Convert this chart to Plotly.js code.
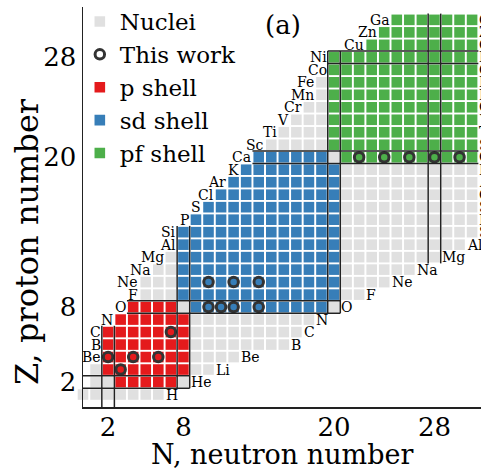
<!DOCTYPE html>
<html><head><meta charset="utf-8">
<script src="https://cdn.plot.ly/plotly-3.0.1.min.js"></script>
<style>html,body{margin:0;padding:0;background:#fff}#chart{width:481px;height:468px}</style>
</head><body><div id="chart"></div>
<script>
// ---- data ----
const elements = ['H','He','Li','Be','B','C','N','O','F','Ne','Na','Mg','Al','Si','P','S','Cl','Ar','K','Ca','Sc','Ti','V','Cr','Mn','Fe','Co','Ni','Cu','Zn','Ga'];
const protonZ = [1,2,3,4,5,6,7,8,9,10,11,12,13,14,15,16,17,18,19,20,21,22,23,24,25,26,27,28,29,30,31];
const nMin = [0,1,1,2,2,2,3,4,5,5,6,7,8,8,9,10,11,12,13,14,15,16,17,18,19,19,20,20,23,24,25];
const nMax = [6,8,10,12,16,17,18,20,22,24,26,28,30,31,31,31,31,31,31,31,31,31,31,31,31,31,31,31,31,31,31];
const workN = [3,2,4,6,7,10,11,12,14,10,12,14,22,24,26,28,30];
const workZ = [3,4,4,4,6,8,8,8,8,10,10,10,20,20,20,20,20];
const magicNumbers = [2,8,20,28];
const tickValues = [2,8,20,28];
const shellNames = ['p shell','sd shell','pf shell'];
const shellLow = [2,8,20];
const shellHigh = [8,20,40];

// ---- styles ----
const FONT = 'DejaVu Serif, serif';
const GRAY = '#e0e0e0';
const SHELL_COLORS = ['#e41a1c','#377eb8','#4daf4a'];
const LINE = '#222222';
const CELL = 10.6;

function shellOf(n, z) {
  for (let s = 0; s < shellLow.length; s++) {
    const lo = shellLow[s], hi = shellHigh[s];
    if (n >= lo && n <= hi && z >= lo && z <= hi) {
      const corner = (n === lo || n === hi) && (z === lo || z === hi);
      if (!corner) return s;
    }
  }
  return -1;
}

const gray = {x: [], y: []};
const shells = shellNames.map(() => ({x: [], y: []}));
protonZ.forEach((z, i) => {
  for (let n = nMin[i]; n <= nMax[i]; n++) {
    const s = shellOf(n, z);
    const target = s < 0 ? gray : shells[s];
    target.x.push(n); target.y.push(z);
  }
});

const traces = [];
traces.push({type: 'scatter', mode: 'markers', name: 'Nuclei', x: gray.x, y: gray.y,
  marker: {symbol: 'square', size: CELL, color: GRAY, line: {width: 0}},
  cliponaxis: false, legendrank: 1, hoverinfo: 'x+y'});
shellNames.forEach((nm, s) => {
  traces.push({type: 'scatter', mode: 'markers', name: nm, x: shells[s].x, y: shells[s].y,
    marker: {symbol: 'square', size: CELL, color: SHELL_COLORS[s], line: {width: 0}},
    cliponaxis: false, legendrank: 3 + s, hoverinfo: 'x+y'});
});
traces.push({type: 'scatter', mode: 'markers', name: 'This work', x: workN, y: workZ,
  marker: {symbol: 'circle-open', size: 9.5, color: '#333333', line: {width: 3, color: '#333333'}},
  cliponaxis: false, legendrank: 2, hoverinfo: 'x+y'});

// magic-number bracket lines, derived from the nuclei extents
const shapes = [];
function seg(x0, y0, x1, y1) {
  shapes.push({type: 'line', xref: 'x', yref: 'y', x0, y0, x1, y1, layer: 'above',
    line: {color: LINE, width: 1.5}});
}
magicNumbers.forEach(M => {
  const ri = protonZ.indexOf(M);
  if (ri >= 0) {
    const a = nMin[ri] <= 1 ? 0 : nMin[ri] - 0.5;
    const b = nMax[ri] + 0.5;
    seg(a, M - 0.5, b, M - 0.5);
    seg(a, M + 0.5, b, M + 0.5);
  }
  const zs = protonZ.filter((z, i) => nMin[i] <= M && nMax[i] >= M);
  if (zs.length) {
    const lo = Math.min(...zs), hi = Math.max(...zs);
    const a = lo <= 1 ? 0 : lo - 0.5;
    seg(M - 0.5, a, M - 0.5, hi + 0.5);
    seg(M + 0.5, a, M + 0.5, hi + 0.5);
  }
});

const annotations = [];
protonZ.forEach((z, i) => {
  if (z >= 4) {
    annotations.push({xref: 'x', yref: 'y', x: nMin[i] - 0.5, y: z, text: elements[i],
      xanchor: 'right', yanchor: 'middle', showarrow: false, borderpad: 0,
      font: {family: FONT, size: 14, color: '#000'}});
  }
  annotations.push({xref: 'x', yref: 'y', x: nMax[i] + 0.5, y: z, text: elements[i],
    xanchor: 'left', yanchor: 'middle', showarrow: false, borderpad: 0,
    font: {family: FONT, size: 14, color: '#000'}});
});
annotations.push({xref: 'paper', yref: 'paper', x: 0.5025, y: 0.955, text: '(a)',
  showarrow: false, xanchor: 'center', yanchor: 'middle', font: {family: FONT, size: 26, color: '#000'}});
annotations.push({xref: 'paper', yref: 'paper', x: 0.5, y: -0.118, text: 'N, neutron number',
  showarrow: false, xanchor: 'center', yanchor: 'middle', font: {family: FONT, size: 27, color: '#000'}});
annotations.push({xref: 'paper', yref: 'paper', x: -0.14, y: 0.413, text: 'Z, proton number',
  showarrow: false, xanchor: 'center', yanchor: 'middle', textangle: -90, font: {family: FONT, size: 32, color: '#000'}});

const layout = {
  width: 481, height: 468,
  margin: {l: 83, r: 0, t: 5, b: 61, pad: 0},
  paper_bgcolor: '#fff', plot_bgcolor: '#fff',
  showlegend: true,
  legend: {x: -0.008, y: 1.018, xanchor: 'left', yanchor: 'top', bgcolor: 'rgba(0,0,0,0)',
    font: {family: FONT, size: 23, color: '#000'}, tracegroupgap: 0},
  xaxis: {range: [0, 31.71], showgrid: false, zeroline: false, showline: true, linecolor: LINE, linewidth: 1.5,
    tickmode: 'array', tickvals: tickValues, ticks: '', ticklabelstandoff: -4,
    tickfont: {family: FONT, size: 26, color: '#000'}},
  yaxis: {range: [0, 32.03], showgrid: false, zeroline: false, showline: true, linecolor: LINE, linewidth: 1.5,
    tickmode: 'array', tickvals: tickValues, ticks: '', tickfont: {family: FONT, size: 26, color: '#000'}},
  shapes, annotations
};
Plotly.newPlot('chart', traces, layout, {displayModeBar: false, staticPlot: true});
</script></body></html>
